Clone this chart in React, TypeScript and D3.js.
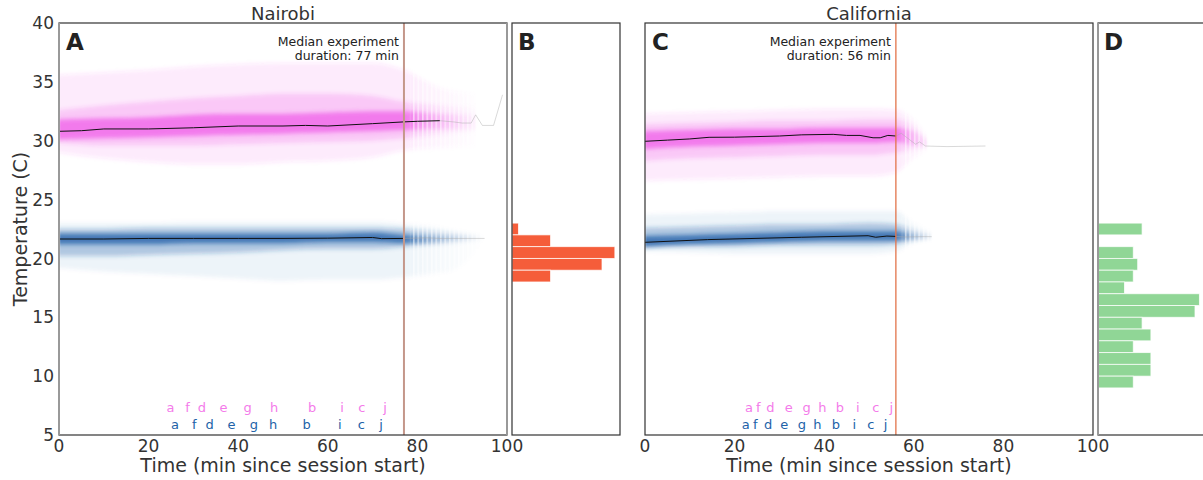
import React from 'react';
import * as d3 from 'd3';

// ---- data ----
const letters = ['a', 'f', 'd', 'e', 'g', 'h', 'b', 'i', 'c', 'j'];
const nairobiWarmLetterT = [24.9, 28.7, 31.9, 36.7, 42.1, 48.0, 56.5, 63.2, 67.6, 72.8];
const nairobiCoolLetterT = [25.9, 30.2, 33.6, 38.5, 43.5, 47.8, 55.3, 62.7, 67.5, 71.9];
const californiaWarmLetterT = [23.2, 25.3, 28.0, 32.1, 36.1, 39.6, 43.5, 47.5, 51.5, 55.0];
const californiaCoolLetterT = [22.5, 24.6, 27.5, 31.1, 35.0, 38.5, 42.6, 46.7, 50.4, 53.7];

// Nairobi, warm condition quantile bands
const nwT = [0, 10, 20, 30, 40, 50, 60, 70, 77, 85, 93];
const nwOuterHi = [35.6, 35.8, 36.0, 36.3, 36.5, 36.6, 36.6, 36.6, 36.0, 34.5, 34.0];
const nwOuterLo = [29.0, 28.5, 28.2, 28.0, 28.0, 28.2, 28.3, 28.6, 29.2, 29.4, 29.5];
const nwMidHi = [32.6, 33.0, 33.3, 33.6, 33.8, 34.0, 34.0, 33.8, 33.3, 33.0, 32.8];
const nwMidLo = [29.8, 29.6, 29.6, 29.6, 29.7, 29.8, 29.9, 30.0, 30.2, 30.5, 30.8];
const nwInnerHi = [31.8, 31.9, 32.0, 32.2, 32.3, 32.3, 32.4, 32.5, 32.5, 32.3, 32.2];
const nwInnerLo = [30.1, 30.2, 30.3, 30.4, 30.5, 30.6, 30.7, 30.8, 30.9, 31.0, 31.0];
const nwLineT = [0, 5, 10, 20, 30, 40, 50, 55, 60, 70, 77, 80, 85];
const nwLine = [30.8, 30.85, 31.0, 31.0, 31.1, 31.25, 31.25, 31.3, 31.25, 31.45, 31.6, 31.65, 31.7];
const nwTailT = [85, 88, 90, 92, 93, 94.5, 97, 99];
const nwTail = [31.7, 31.6, 31.5, 31.5, 32.2, 31.3, 31.3, 33.9];

// Nairobi, cool condition
const ncT = [0, 10, 20, 30, 40, 50, 60, 70, 77, 85, 88, 95];
const ncOuterHi = [23.0, 23.0, 23.0, 23.1, 23.1, 23.1, 23.1, 23.1, 22.9, 22.6, 22.4, 22.0];
const ncOuterLo = [19.2, 18.9, 18.7, 18.5, 18.3, 18.1, 18.2, 18.2, 18.4, 18.8, 19.0, 21.5];
const ncMidHi = [22.5, 22.5, 22.6, 22.6, 22.6, 22.6, 22.6, 22.6, 22.5, 22.3, 22.2, 21.9];
const ncMidLo = [20.2, 20.2, 20.3, 20.4, 20.5, 20.7, 20.8, 20.8, 21.0, 21.2, 21.3, 21.6];
const ncInnerHi = [22.1, 22.1, 22.1, 22.1, 22.1, 22.1, 22.1, 22.2, 22.0, 21.9, 21.9, 21.8];
const ncInnerLo = [21.2, 21.2, 21.2, 21.3, 21.3, 21.3, 21.4, 21.4, 21.3, 21.4, 21.5, 21.6];
const ncLineT = [0, 10, 20, 30, 40, 50, 60, 70, 72, 77];
const ncLine = [21.65, 21.65, 21.7, 21.7, 21.7, 21.7, 21.72, 21.78, 21.68, 21.7];
const ncTailT = [77, 82, 85, 88, 95];
const ncTail = [21.7, 21.75, 21.7, 21.7, 21.7];

// California, warm
const cwT = [0, 10, 20, 30, 40, 50, 56, 60, 63];
const cwOuterHi = [32.3, 32.4, 32.5, 32.6, 32.7, 32.7, 32.6, 31.8, 30.5];
const cwOuterLo = [26.6, 26.7, 26.8, 26.9, 27.0, 27.0, 27.3, 28.5, 29.2];
const cwMidHi = [31.4, 31.5, 31.6, 31.7, 31.7, 31.8, 31.8, 31.3, 30.3];
const cwMidLo = [28.3, 28.5, 28.6, 28.7, 28.8, 28.8, 29.0, 29.2, 29.4];
const cwInnerHi = [30.8, 30.9, 31.0, 31.0, 31.1, 31.1, 31.1, 30.8, 30.0];
const cwInnerLo = [29.3, 29.5, 29.6, 29.7, 29.8, 29.8, 29.9, 29.6, 29.5];
const cwLineT = [0, 5, 10, 14.3, 20, 30, 35, 42, 45, 48, 50.9, 52.5, 54.2, 56];
const cwLine = [29.95, 30.05, 30.15, 30.29, 30.3, 30.4, 30.5, 30.54, 30.45, 30.45, 30.25, 30.25, 30.45, 30.4];
const cwTailT = [56, 57.2, 60.4, 61.3, 62.6, 67.4, 76];
const cwTail = [30.4, 30.63, 29.7, 29.9, 29.55, 29.5, 29.55];

// California, cool
const ccT = [0, 10, 20, 30, 40, 50, 56, 60, 64];
const ccOuterHi = [23.7, 23.8, 23.9, 24.0, 24.0, 24.0, 24.0, 23.0, 22.3];
const ccOuterLo = [20.6, 20.5, 20.4, 20.4, 20.4, 20.4, 20.6, 21.3, 21.7];
const ccMidHi = [22.6, 22.7, 22.8, 22.9, 22.9, 23.0, 22.9, 22.5, 22.1];
const ccMidLo = [20.9, 21.0, 21.0, 21.1, 21.1, 21.1, 21.2, 21.5, 21.7];
const ccInnerHi = [21.9, 22.0, 22.1, 22.2, 22.3, 22.3, 22.3, 22.1, 22.0];
const ccInnerLo = [21.0, 21.2, 21.3, 21.4, 21.5, 21.5, 21.5, 21.6, 21.7];
const ccLineT = [0, 14, 35, 49.8, 51.5, 54, 56];
const ccLine = [21.37, 21.6, 21.8, 21.93, 21.8, 21.9, 21.87];
const ccTailT = [56, 58, 62, 64];
const ccTail = [21.87, 21.82, 21.85, 21.85];

// histograms of ambient temperature (1 C bins, lower edge)
const nairobiBins = [22, 21, 20, 19, 18];
const nairobiCounts = [1, 6, 16, 14, 6];
const californiaBins = [22, 21, 20, 19, 18, 17, 16, 15, 14, 13, 12, 11, 10, 9];
const californiaCounts = [10, 0, 8, 9, 8, 6, 23, 22, 10, 12, 8, 12, 12, 8];

const yTicks = [5, 10, 15, 20, 25, 30, 35, 40];
const xTicks = [0, 20, 40, 60, 80, 100];

// ---- layout ----
const W = 1203;
const H = 480;
const top = 23;
const bottom = 435;
const panelW = 448;
const histW = 108;
const font = 'DejaVu Sans, sans-serif';
const WARM = '#EC3FE3';
const COOL = '#1F5FA8';

const y = d3.scaleLinear().domain([5, 40]).range([bottom, top]);

const zipBand = (t, hi, lo) => t.map((v, i) => ({ t: v, hi: hi[i], lo: lo[i] }));
const zipLine = (t, v) => t.map((tt, i) => ({ t: tt, v: v[i] }));

const Bands = ({ x, t, layers, color, opacities }) => {
  const area = d3.area().x(d => x(d.t)).y0(d => y(d.lo)).y1(d => y(d.hi)).curve(d3.curveMonotoneX);
  return (
    <g>
      {layers.map((l, i) => (
        <path key={i} d={area(zipBand(t, l[0], l[1]))} fill={color} fillOpacity={opacities[i]} />
      ))}
    </g>
  );
};

const TracePanel = ({ id, x0, title, letter, median, fadeEnd, warm, cool, warmLetterT, coolLetterT, medColor, medWidth, showY }) => {
  const x = d3.scaleLinear().domain([0, 100]).range([x0, x0 + panelW]);
  const line = d3.line().x(d => x(d.t)).y(d => y(d.v));
  const xm = x(median);
  const xe = x(fadeEnd);
  return (
    <g>
      <defs>
        <linearGradient id={`g-${id}`} gradientUnits="userSpaceOnUse" x1={xm} x2={xe} y1={0} y2={0}>
          <stop offset="0%" stopColor="#fff" stopOpacity={1} />
          <stop offset="35%" stopColor="#fff" stopOpacity={0.6} />
          <stop offset="100%" stopColor="#fff" stopOpacity={0} />
        </linearGradient>
        <pattern id={`p-${id}`} patternUnits="userSpaceOnUse" width={4.5} height={10} x={xm}>
          <rect x={0} y={0} width={1.6} height={10} fill="#000" />
        </pattern>
        <mask id={`m-${id}`} maskUnits="userSpaceOnUse" x={0} y={0} width={W} height={H}>
          <rect x={x0} y={top} width={xm - x0} height={bottom - top} fill="#fff" />
          <rect x={xm} y={top} width={x0 + panelW - xm} height={bottom - top} fill={`url(#g-${id})`} />
          <rect x={xm + 6} y={top} width={x0 + panelW - xm - 6} height={bottom - top} fill={`url(#p-${id})`} opacity={0.55} />
        </mask>
        <filter id={`b-${id}`} filterUnits="userSpaceOnUse" x={0} y={0} width={W} height={H}>
          <feGaussianBlur stdDeviation="1 2.2" />
        </filter>
      </defs>
      <rect x={x0} y={top} width={panelW} height={bottom - top} fill="#fff" />
      <g mask={`url(#m-${id})`}>
        <g filter={`url(#b-${id})`}>
          <Bands x={x} t={warm.t} layers={warm.layers} color={WARM} opacities={[0.1, 0.2, 0.58]} />
          <Bands x={x} t={cool.t} layers={cool.layers} color={COOL} opacities={[0.07, 0.3, 0.75]} />
        </g>
      </g>
      <path d={line(zipLine(warm.lineT, warm.line))} fill="none" stroke="#111" strokeWidth={1} />
      <path d={line(zipLine(warm.tailT, warm.tail))} fill="none" stroke="#aaa" strokeOpacity={0.45} strokeWidth={1} />
      <path d={line(zipLine(cool.lineT, cool.line))} fill="none" stroke="#111" strokeWidth={1} />
      <path d={line(zipLine(cool.tailT, cool.tail))} fill="none" stroke="#aaa" strokeOpacity={0.45} strokeWidth={1} />
      {letters.map((s, i) => (
        <text key={'w' + i} x={x(warmLetterT[i])} y={412} textAnchor="middle" fontSize={13} fill="#F47BEA" fontFamily={font}>{s}</text>
      ))}
      {letters.map((s, i) => (
        <text key={'c' + i} x={x(coolLetterT[i])} y={429} textAnchor="middle" fontSize={13} fill="#2262A8" fontFamily={font}>{s}</text>
      ))}
      <line x1={xm} x2={xm} y1={top} y2={bottom} stroke={medColor} strokeWidth={medWidth} />
      <text x={xm - 5} y={46} textAnchor="end" fontSize={12.5} fill="#222" fontFamily={font}>Median experiment</text>
      <text x={xm - 5} y={60} textAnchor="end" fontSize={12.5} fill="#222" fontFamily={font}>{`duration: ${median} min`}</text>
      <text x={x0 + 7} y={50} fontSize={23} fontWeight="bold" fill="#222" fontFamily={font}>{letter}</text>
      <rect x={x0} y={top} width={panelW} height={bottom - top} fill="none" stroke="#333" strokeWidth={1.2} />
      {showY && (
        <g>
          <line x1={x0} x2={x0} y1={top} y2={bottom} stroke="#999" strokeWidth={2} />
          <line x1={x0 + panelW} x2={x0 + panelW} y1={top} y2={bottom} stroke="#999" strokeWidth={2} />
          {yTicks.map(v => (
            <text key={v} x={x0 - 5} y={y(v)} dy="0.36em" textAnchor="end" fontSize={17} fill="#333" fontFamily={font}>{v}</text>
          ))}
          <text transform={`translate(${x0 - 32},${(top + bottom) / 2}) rotate(-90)`} textAnchor="middle" fontSize={19} fill="#333" fontFamily={font}>Temperature (C)</text>
        </g>
      )}
      {xTicks.map(v => (
        <text key={v} x={x(v)} y={452} textAnchor="middle" fontSize={17} fill="#333" fontFamily={font}>{v}</text>
      ))}
      <text x={x0 + panelW / 2} y={472} textAnchor="middle" fontSize={19} fill="#333" fontFamily={font}>Time (min since session start)</text>
      <text x={x0 + panelW / 2} y={20} textAnchor="middle" fontSize={18} fill="#333" fontFamily={font}>{title}</text>
    </g>
  );
};

const HistPanel = ({ x0, bins, counts, maxCount, color, letter, grayLeft }) => {
  const x = d3.scaleLinear().domain([0, maxCount]).range([x0, x0 + histW]);
  return (
    <g>
      <defs>
        <clipPath id={`hc-${letter}`}>
          <rect x={x0} y={0} width={W - x0} height={H} />
        </clipPath>
      </defs>
      <g clipPath={`url(#hc-${letter})`}>
        {bins.map((b, i) => (
          counts[i] > 0 && (
            <rect key={b} x={x(0)} y={y(b + 1)} width={x(counts[i]) - x(0)} height={y(b) - y(b + 1)}
              fill={color} stroke="#fff" strokeOpacity={0.8} strokeWidth={0.9} />
          )
        ))}
      </g>
      <rect x={x0} y={top} width={histW} height={bottom - top} fill="none" stroke="#333" strokeWidth={1.2} />
      {grayLeft && <line x1={x0} x2={x0} y1={top} y2={bottom} stroke="#999" strokeWidth={2} />}
      <text x={x0 + 6} y={50} fontSize={23} fontWeight="bold" fill="#222" fontFamily={font}>{letter}</text>
    </g>
  );
};

export default function App() {
  const nairobiWarm = {
    t: nwT,
    layers: [[nwOuterHi, nwOuterLo], [nwMidHi, nwMidLo], [nwInnerHi, nwInnerLo]],
    lineT: nwLineT, line: nwLine, tailT: nwTailT, tail: nwTail,
  };
  const nairobiCool = {
    t: ncT,
    layers: [[ncOuterHi, ncOuterLo], [ncMidHi, ncMidLo], [ncInnerHi, ncInnerLo]],
    lineT: ncLineT, line: ncLine, tailT: ncTailT, tail: ncTail,
  };
  const californiaWarm = {
    t: cwT,
    layers: [[cwOuterHi, cwOuterLo], [cwMidHi, cwMidLo], [cwInnerHi, cwInnerLo]],
    lineT: cwLineT, line: cwLine, tailT: cwTailT, tail: cwTail,
  };
  const californiaCool = {
    t: ccT,
    layers: [[ccOuterHi, ccOuterLo], [ccMidHi, ccMidLo], [ccInnerHi, ccInnerLo]],
    lineT: ccLineT, line: ccLine, tailT: ccTailT, tail: ccTail,
  };
  return (
    <svg width={W} height={H} style={{ position: 'absolute', left: 0, top: 0, background: '#fff' }}>
      <rect width={W} height={H} fill="#fff" />
      <TracePanel id="a" x0={59} title="Nairobi" letter="A" median={77} fadeEnd={95}
        warm={nairobiWarm} cool={nairobiCool} warmLetterT={nairobiWarmLetterT} coolLetterT={nairobiCoolLetterT}
        medColor="#C4978A" medWidth={2} showY />
      <HistPanel x0={512} bins={nairobiBins} counts={nairobiCounts} maxCount={16.8} color="#F55D3A" letter="B" />
      <TracePanel id="c" x0={645} title="California" letter="C" median={56} fadeEnd={65}
        warm={californiaWarm} cool={californiaCool} warmLetterT={californiaWarmLetterT} coolLetterT={californiaCoolLetterT}
        medColor="#E2744A" medWidth={1.3} showY={false} />
      <HistPanel x0={1098} bins={californiaBins} counts={californiaCounts} maxCount={24.5} color="#90D696" letter="D" grayLeft />
    </svg>
  );
}
